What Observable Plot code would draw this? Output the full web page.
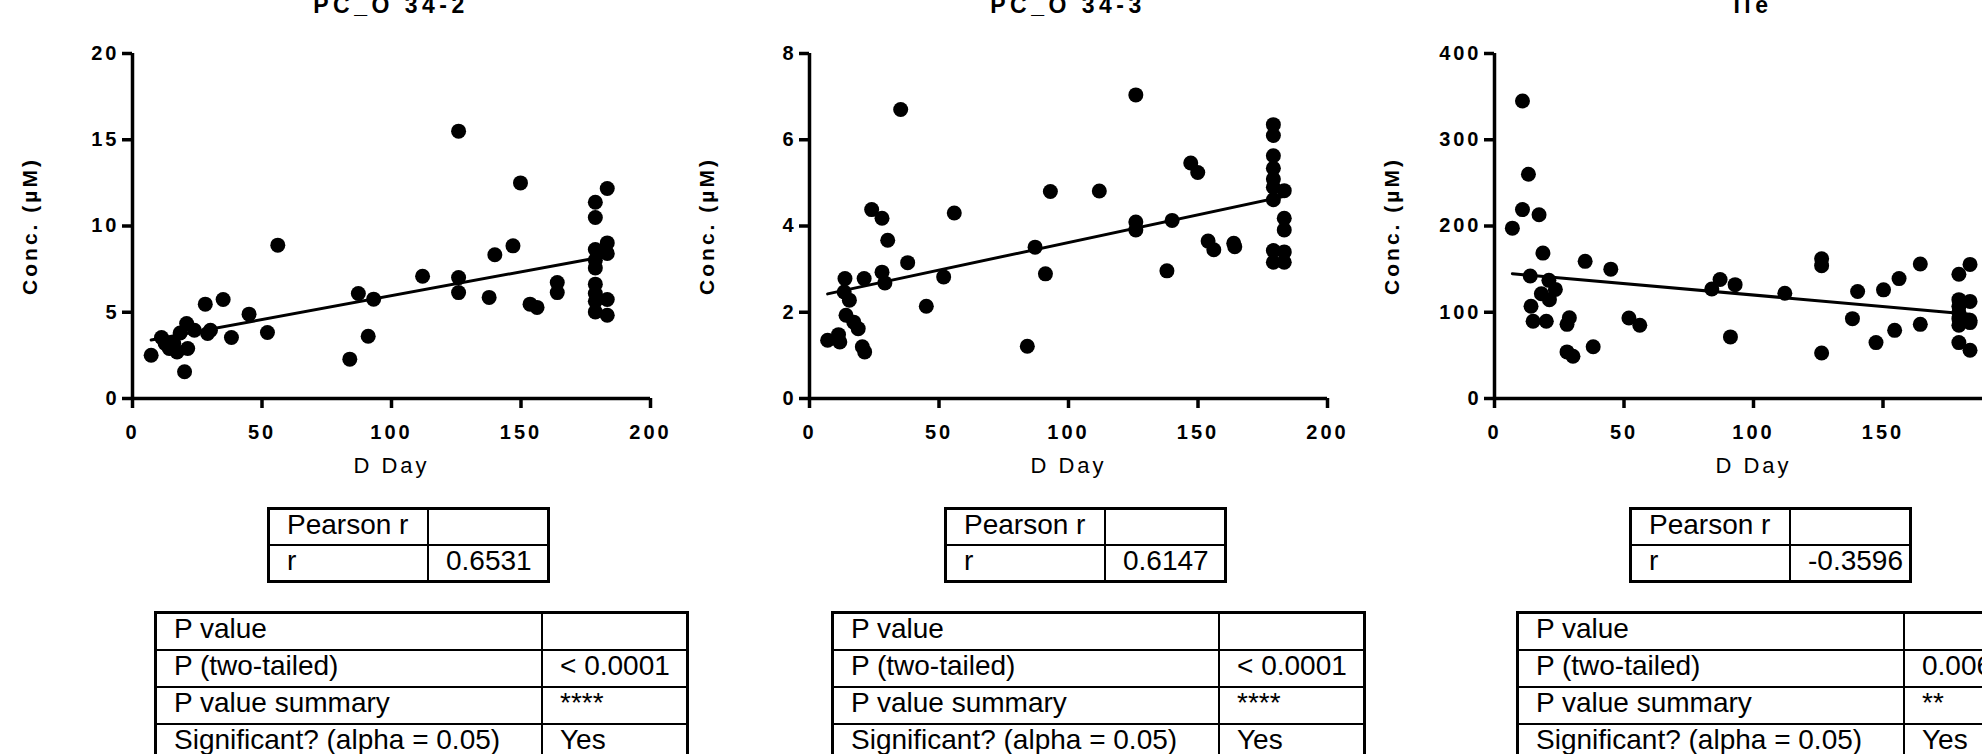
<!DOCTYPE html>
<html>
<head>
<meta charset="utf-8">
<script src="https://cdn.jsdelivr.net/npm/d3@7"></script>
<script src="https://cdn.jsdelivr.net/npm/@observablehq/plot@0.6"></script>
<style>
  html, body { margin: 0; padding: 0; background: #fff; }
  #root { position: relative; width: 1982px; height: 754px; overflow: hidden; background: #fff;
          font-family: "Liberation Sans", Arial, Helvetica, sans-serif; color: #000; }
  .panel { position: absolute; top: 0; width: 680px; height: 754px; }
  .panel svg { position: absolute; left: 0; top: 0; }
  .title { position: absolute; top: -6px; left: 132px; width: 518px; text-align: center;
           font-size: 23px; font-weight: bold; letter-spacing: 4.5px; line-height: 22px; white-space: nowrap; }
  .tbl { position: absolute; display: grid; background: #000; border: 3px solid #000; gap: 2px; }
  .tbl div { background: #fff; box-sizing: border-box; padding-left: 17px; font-size: 28px;
             line-height: 29px; white-space: nowrap; overflow: hidden; }
  .pearson { left: 267px; top: 507px; grid-template-columns: 157px 118px; grid-auto-rows: 34px; }
  .ptable { left: 154px; top: 611px; grid-template-columns: 384px 143px; grid-auto-rows: 35px; }
</style>
</head>
<body>
<div id="root"></div>
<script>
// ---------- data ----------
const titles = ["PC_O 34-2", "PC_O 34-3", "Ile"];
const yMax = [20, 8, 400];
const yTicks1 = [0, 5, 10, 15, 20];
const yTicks2 = [0, 2, 4, 6, 8];
const yTicks3 = [0, 100, 200, 300, 400];
const xTicks = [0, 50, 100, 150, 200];
const xLabel = "D Day";
const yLabel = "Conc. (\u00b5M)";

const day1 = [7.2, 11.2, 12.6, 14.2, 15.9, 17.2, 18.4, 20.1, 20.9, 21.3, 23.9, 28.1, 29.0, 30.1, 35.0, 38.2, 45.0, 52.1, 56.1,
  83.9, 87.2, 91.0, 93.1, 112.0, 125.9, 125.9, 125.9, 137.7, 139.9, 146.9, 149.8, 153.5, 156.2, 164.0, 164.0,
  178.7, 178.7, 178.7, 178.7, 178.7, 178.7, 178.7, 178.7, 178.7, 183.3, 183.3, 183.3, 183.3, 183.3];
const conc1 = [2.51, 3.54, 3.19, 2.9, 3.19, 2.7, 3.8, 1.55, 4.35, 2.9, 3.96, 5.47, 3.77, 3.96, 5.74, 3.54, 4.89, 3.83, 8.89,
  2.28, 6.09, 3.61, 5.76, 7.09, 15.5, 7.01, 6.14, 5.86, 8.33, 8.85, 12.5, 5.47, 5.28, 6.72, 6.14,
  11.38, 10.49, 8.64, 8.02, 7.57, 6.63, 6.09, 5.64, 5.02, 12.17, 9.02, 8.41, 5.74, 4.83];

const day2 = [7.0, 11.2, 11.7, 13.7, 13.4, 15.4, 14.1, 17.1, 18.8, 20.4, 21.3, 21.1, 24.0, 28.0, 30.2, 28.0, 29.1, 35.2, 37.9,
  45.1, 51.8, 55.9, 84.1, 87.1, 91.1, 93.0, 111.9, 126.0, 126.0, 126.0, 138.0, 140.0, 147.2, 149.9, 153.9, 156.1, 163.8, 164.2,
  179.1, 179.1, 179.1, 179.1, 179.1, 179.1, 179.1, 179.1, 179.1, 183.3, 183.3, 183.3, 183.3, 183.3];
const conc2 = [1.35, 1.48, 1.31, 2.78, 2.47, 2.28, 1.93, 1.77, 1.62, 1.20, 1.08, 2.78, 4.38, 4.18, 3.67, 2.93, 2.68, 6.70, 3.15,
  2.14, 2.82, 4.30, 1.21, 3.51, 2.89, 4.80, 4.81, 7.04, 4.09, 3.91, 2.96, 4.13, 5.46, 5.24, 3.65, 3.45, 3.60, 3.52,
  6.35, 6.10, 5.63, 5.34, 5.09, 4.90, 4.61, 3.43, 3.16, 4.82, 4.18, 3.91, 3.40, 3.16];

const day3 = [6.9, 10.8, 10.8, 13.1, 13.8, 14.1, 14.9, 17.2, 18.7, 18.1, 20.0, 21.0, 21.2, 23.5, 28.0, 28.9, 28.0, 30.3, 35.0,
  38.1, 44.9, 51.9, 56.1, 83.9, 87.1, 92.9, 91.1, 112.1, 126.3, 126.3, 126.3, 138.2, 140.2, 147.3, 150.2, 154.5, 156.2, 164.4, 164.4,
  179.3, 179.3, 179.3, 179.3, 179.3, 179.3, 179.3, 183.6, 183.6, 183.6, 183.6, 183.6];
const conc3 = [197.5, 345, 219, 260, 142, 107, 89.5, 213, 168.6, 121.5, 89.5, 137, 114.6, 126.5, 86, 93.7, 54, 49, 159,
  60, 150, 93.3, 85, 127, 138, 132, 71.4, 122, 162, 154, 52.8, 92.6, 124, 64.8, 126, 79, 139, 156, 86,
  144, 114.6, 107, 100, 92.6, 85, 64.8, 155.5, 112.6, 90.6, 88, 56];

const pearsonHead = ["Pearson r", ""];
const rLabel = "r";
const rValues = ["0.6531", "0.6147", "-0.3596"];
const pLabels = ["P value", "P (two-tailed)", "P value summary", "Significant? (alpha = 0.05)"];
const pTwoTailed = ["< 0.0001", "< 0.0001", "0.0061"];
const pSummary = ["****", "****", "**"];
const pSignificant = ["Yes", "Yes", "Yes"];

const days = [day1, day2, day3];
const concs = [conc1, conc2, conc3];
const yTicksAll = [yTicks1, yTicks2, yTicks3];
const panelLeft = [0, 677, 1362];

// ---------- build ----------
const root = document.getElementById("root");
const FONT = '"Liberation Sans", Arial, Helvetica, sans-serif';

for (let i = 0; i < 3; i++) {
  const data = days[i].map((d, k) => ({day: d, conc: concs[i][k]}));
  const panel = document.createElement("div");
  panel.className = "panel";
  panel.style.left = panelLeft[i] + "px";
  root.appendChild(panel);

  const svg = Plot.plot({
    width: 680, height: 480,
    marginLeft: 132, marginRight: 30, marginTop: 53, marginBottom: 82,
    x: {domain: [0, 200], label: null},
    y: {domain: [0, yMax[i]], label: null},
    marks: [
      Plot.ruleX([0], {stroke: "black", strokeWidth: 3.5}),
      Plot.ruleY([0], {stroke: "black", strokeWidth: 3.5}),
      Plot.axisX({ticks: xTicks, tickSize: 10, tickPadding: 16, strokeWidth: 3.5, label: null,
                  fontSize: 20, fontWeight: "bold", tickFormat: d => String(d)}),
      Plot.axisY({ticks: yTicksAll[i], tickSize: 10, tickPadding: 3, strokeWidth: 3.5, label: null,
                  fontSize: 20, fontWeight: "bold", tickFormat: d => String(d)}),
      Plot.linearRegressionY(data, {x: "day", y: "conc", stroke: "black", strokeWidth: 3, ci: 0}),
      Plot.dot(data, {x: "day", y: "conc", r: 7.5, fill: "black", stroke: null}),
      Plot.text([xLabel], {frameAnchor: "bottom", lineAnchor: "middle", textAnchor: "middle", dy: 67,
                           fontSize: 22, fontWeight: "normal", ariaLabel: "xlabel", fill: "black"}),
      Plot.text([yLabel], {frameAnchor: "left", lineAnchor: "middle", textAnchor: "middle", dx: -102, rotate: -90,
                           fontSize: 21, fontWeight: "bold", ariaLabel: "ylabel", fill: "black"})
    ]
  });
  svg.style.fontFamily = FONT;
  svg.style.fontSize = "20px";
  svg.style.fontWeight = "bold";
  svg.style.letterSpacing = "3px";
  svg.style.color = "black";
  svg.style.background = "transparent";
  svg.style.overflow = "visible";
  svg.style.maxWidth = "none";
  d3.select(svg).selectAll('g[aria-label="xlabel"]').style("letter-spacing", "4.5px");
  d3.select(svg).selectAll('g[aria-label="ylabel"]').style("letter-spacing", "4.5px");
  panel.appendChild(svg);

  const title = document.createElement("div");
  title.className = "title";
  title.textContent = titles[i];
  panel.appendChild(title);

  const pt = document.createElement("div");
  pt.className = "tbl pearson";
  [pearsonHead[0], pearsonHead[1], rLabel, rValues[i]].forEach(t => {
    const c = document.createElement("div"); c.textContent = t; pt.appendChild(c);
  });
  panel.appendChild(pt);

  const pv = document.createElement("div");
  pv.className = "tbl ptable";
  const vals = ["", pTwoTailed[i], pSummary[i], pSignificant[i]];
  pLabels.forEach((l, k) => {
    const a = document.createElement("div"); a.textContent = l; pv.appendChild(a);
    const b = document.createElement("div"); b.textContent = vals[k]; pv.appendChild(b);
  });
  panel.appendChild(pv);
}
</script>
</body>
</html>
